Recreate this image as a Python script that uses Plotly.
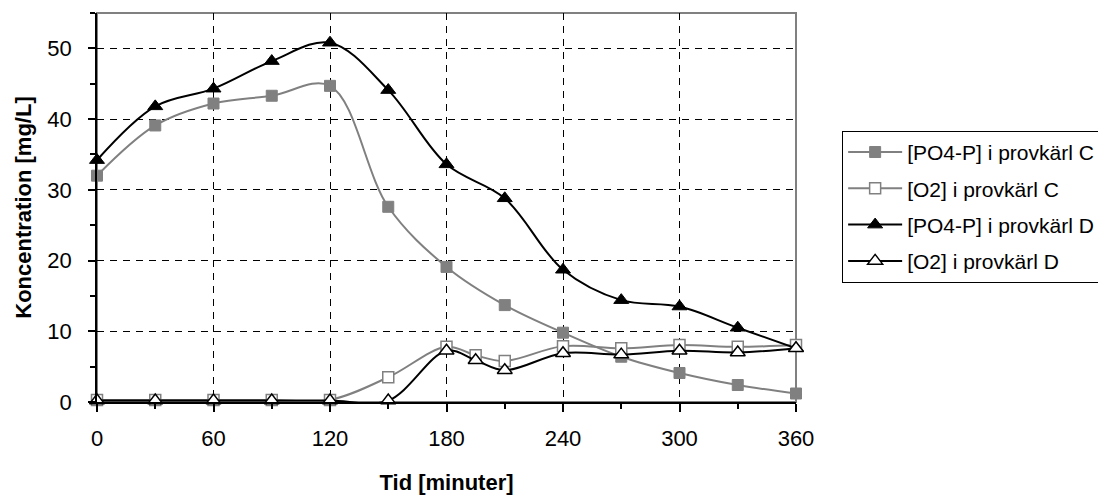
import plotly.graph_objects as go

# Sampling times (minutes)
tid_po4 = [0, 30, 60, 90, 120, 150, 180, 210, 240, 270, 300, 330, 360]
tid_o2 = [0, 30, 60, 90, 120, 150, 180, 195, 210, 240, 270, 300, 330, 360]

# Concentrations (mg/L)
po4_c = [32.0, 39.1, 42.2, 43.3, 44.7, 27.6, 19.1, 13.7, 9.8, 6.4, 4.1, 2.4, 1.2]
o2_c = [0.3, 0.3, 0.3, 0.3, 0.3, 3.5, 7.8, 6.6, 5.8, 7.9, 7.6, 8.05, 7.8, 8.05]
po4_d = [34.2, 41.8, 44.3, 48.2, 50.8, 44.1, 33.6, 28.8, 18.7, 14.4, 13.5, 10.5, 7.6]
o2_d = [0.2, 0.2, 0.2, 0.2, 0.2, 0.2, 7.25, 5.9, 4.5, 6.9, 6.7, 7.25, 7.0, 7.6]

x_ticks = [0, 60, 120, 180, 240, 300, 360]
y_ticks = [0, 10, 20, 30, 40, 50]

GRAY = "#808080"
BLACK = "#000000"
FONT = "Liberation Sans, Arial, sans-serif"
FS = 22

fig = go.Figure()

series = [
    ("[PO4-P] i provkärl C", tid_po4, po4_c, GRAY,
     dict(symbol="square", size=11, color=GRAY, line=dict(color=GRAY, width=1))),
    ("[O2] i provkärl C", tid_o2, o2_c, GRAY,
     dict(symbol="square", size=11, color="white", line=dict(color=GRAY, width=1.5))),
    ("[PO4-P] i provkärl D", tid_po4, po4_d, BLACK,
     dict(symbol="triangle-up", size=13, color=BLACK, line=dict(color=BLACK, width=1))),
    ("[O2] i provkärl D", tid_o2, o2_d, BLACK,
     dict(symbol="triangle-up", size=13, color="white", line=dict(color=BLACK, width=1.5))),
]

for i, (name, xs, ys, col, mk) in enumerate(series):
    fig.add_trace(go.Scatter(
        x=xs, y=ys, name=name, mode="lines+markers",
        line=dict(color=col, width=2, shape="spline", smoothing=1.0),
        marker=mk, cliponaxis=False, legendgroup=f"g{i}",
    ))

# Plot-area frame (gray on top and right)
fig.add_shape(type="rect", xref="paper", yref="paper", x0=0, y0=0, x1=1, y1=1,
              line=dict(color=GRAY, width=2), layer="below")

fig.update_layout(
    width=1098, height=495,
    margin=dict(l=97, r=302, t=13, b=93, autoexpand=False),
    paper_bgcolor="white", plot_bgcolor="white",
    font=dict(family=FONT, size=FS, color=BLACK),
    showlegend=True,
    legend=dict(
        x=1.066, y=0.697, xanchor="left", yanchor="top",
        bordercolor=BLACK, borderwidth=1, bgcolor="white",
        font=dict(family=FONT, size=21, color=BLACK),
        tracegroupgap=6, traceorder="grouped", itemwidth=54,
    ),
    xaxis=dict(
        range=[0, 360], tickmode="array", tickvals=x_ticks,
        ticktext=[str(v) for v in x_ticks], automargin=False,
        showline=True, linecolor=BLACK, linewidth=1.5,
        ticks="outside", ticklen=8, tickcolor=BLACK, tickwidth=1.5,
        showgrid=True, gridcolor=BLACK, gridwidth=1, griddash="7px,6px",
        minor=dict(dtick=30, tick0=0, ticks="outside", ticklen=5, tickcolor=BLACK,
                   tickwidth=1.5, showgrid=False),
        zeroline=False, ticklabelstandoff=8,
        title=dict(text="<b>Tid [minuter]</b>", font=dict(size=FS), standoff=24),
        tickfont=dict(size=FS),
    ),
    yaxis=dict(
        range=[0, 55], tickmode="array", tickvals=y_ticks,
        ticktext=[str(v) for v in y_ticks], automargin=False,
        showline=True, linecolor=BLACK, linewidth=1.5,
        ticks="outside", ticklen=7, tickcolor=BLACK, tickwidth=1.5,
        showgrid=True, gridcolor=BLACK, gridwidth=1, griddash="7px,6px",
        minor=dict(dtick=5, tick0=0, ticks="outside", ticklen=5, tickcolor=BLACK,
                   tickwidth=1.5, showgrid=False),
        zeroline=False, ticklabelstandoff=12,
        title=dict(text="<b>Koncentration [mg/L]</b>", font=dict(size=FS), standoff=10),
        tickfont=dict(size=FS),
    ),
)

fig.write_html("out.html")
